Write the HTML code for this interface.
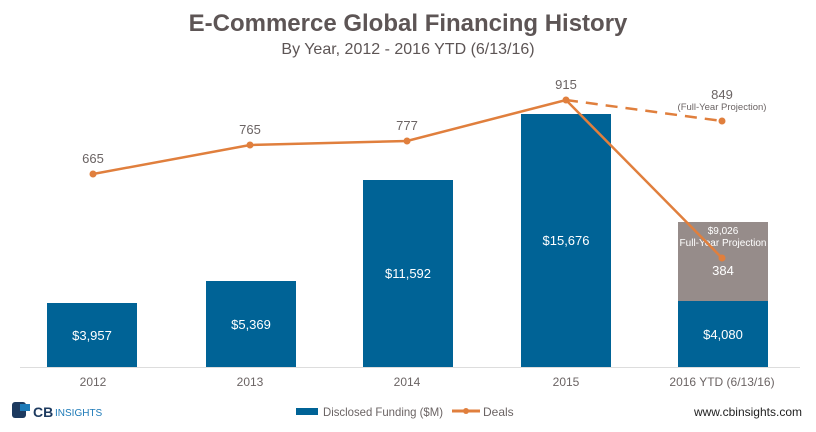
<!DOCTYPE html>
<html><head><meta charset="utf-8"><style>
body{margin:0;background:#fff;}
svg{display:block;font-family:"Liberation Sans",sans-serif;}
</style></head><body>
<svg width="816" height="432" viewBox="0 0 816 432">
<text x="408" y="31" text-anchor="middle" font-size="24" font-weight="bold" fill="#5d5555">E-Commerce Global Financing History</text>
<text x="408" y="54" text-anchor="middle" font-size="16" fill="#5d5555">By Year, 2012 - 2016 YTD (6/13/16)</text>
<line x1="20" y1="367.5" x2="800" y2="367.5" stroke="#ddd"/>
<g fill="#006396">
<rect x="47" y="303" width="90" height="64"/>
<rect x="206" y="281" width="90" height="86"/>
<rect x="363" y="180" width="90" height="187"/>
<rect x="521" y="114" width="90" height="253"/>
<rect x="678" y="301" width="90" height="66"/>
</g>
<rect x="678" y="222" width="90" height="79" fill="#968c8a"/>
<g fill="#fff" font-size="13" text-anchor="middle">
<text x="92" y="340">$3,957</text>
<text x="251" y="329">$5,369</text>
<text x="408" y="278">$11,592</text>
<text x="566" y="245">$15,676</text>
<text x="723" y="339">$4,080</text>
<text x="723" y="275">384</text>
<text x="723" y="234" font-size="10">$9,026</text>
<text x="723" y="246" font-size="10">Full-Year Projection</text>
</g>
<polyline points="93,174 250,145 407,141 566,100 722,258" fill="none" stroke="#e07f3d" stroke-width="2.5"/>
<line x1="566" y1="100" x2="722" y2="121" stroke="#e07f3d" stroke-width="2.5" stroke-dasharray="12,8"/>
<g fill="#e07f3d">
<circle cx="93" cy="174" r="3.5"/><circle cx="250" cy="145" r="3.5"/><circle cx="407" cy="141" r="3.5"/><circle cx="566" cy="100" r="3.5"/><circle cx="722" cy="258" r="3.5"/><circle cx="722" cy="121" r="3.5"/>
</g>
<g fill="#6b6464" font-size="13" text-anchor="middle">
<text x="93" y="163">665</text>
<text x="250" y="134">765</text>
<text x="407" y="130">777</text>
<text x="566" y="89">915</text>
<text x="722" y="99">849</text>
<text x="722" y="110" font-size="9.5">(Full-Year Projection)</text>
</g>
<g fill="#6b6464" font-size="12" text-anchor="middle">
<text x="93" y="386">2012</text>
<text x="250" y="386">2013</text>
<text x="407" y="386">2014</text>
<text x="566" y="386">2015</text>
<text x="722" y="386">2016 YTD (6/13/16)</text>
</g>
<g>
<rect x="12" y="402" width="14" height="16" rx="3" fill="#1d3a5f"/>
<rect x="20" y="404" width="10" height="7" fill="#1d7ab8"/>
<text x="33" y="417" font-size="14" font-weight="bold" fill="#1d3a5f">CB</text>
<text x="55" y="416" font-size="10" fill="#1d7ab8">INSIGHTS</text>
</g>
<rect x="296" y="408" width="22" height="7" fill="#006396"/>
<text x="323" y="416" font-size="12" fill="#6b6464" textLength="120" lengthAdjust="spacingAndGlyphs">Disclosed Funding ($M)</text>
<line x1="452" y1="411" x2="480" y2="411" stroke="#e07f3d" stroke-width="3"/>
<circle cx="466" cy="411" r="3" fill="#e07f3d"/>
<text x="483" y="416" font-size="12" fill="#6b6464">Deals</text>
<text x="802" y="416" font-size="12" text-anchor="end" fill="#222">www.cbinsights.com</text>
</svg>
</body></html>
